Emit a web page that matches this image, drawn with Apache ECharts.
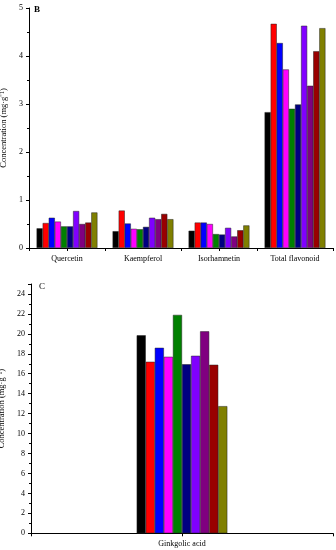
<!DOCTYPE html>
<html><head><meta charset="utf-8">
<script src="https://cdn.jsdelivr.net/npm/echarts@6/dist/echarts.min.js"></script>
<style>html,body{margin:0;padding:0;background:#fff}#c{width:336px;height:550px}</style>
</head><body><div id="c"></div>
<script>
// Panel B categories
const catsB = ['Quercetin', 'Kaempferol', 'Isorhamnetin', 'Total flavonoid'];
// Panel C category
const catsC = ['Ginkgolic acid'];
// Panel B series values (one array per sample, across catsB)
const s1B  = [0.41, 0.35, 0.36, 2.83];
const s2B  = [0.52, 0.78, 0.53, 4.67];
const s3B  = [0.63, 0.51, 0.53, 4.27];
const s4B  = [0.55, 0.40, 0.50, 3.72];
const s5B  = [0.45, 0.39, 0.29, 2.90];
const s6B  = [0.45, 0.44, 0.28, 2.99];
const s7B  = [0.77, 0.63, 0.42, 4.63];
const s8B  = [0.50, 0.60, 0.24, 3.38];
const s9B  = [0.53, 0.71, 0.37, 4.10];
const s10B = [0.74, 0.60, 0.47, 4.58];
// Panel C values (one per sample)
const valuesC = [19.85, 17.2, 18.6, 17.7, 21.9, 16.95, 17.8, 20.25, 16.9, 12.75];
const seriesNames = ['S1','S2','S3','S4','S5','S6','S7','S8','S9','S10'];
const colors = ['#000000','#ff0000','#0000ff','#ff00ff','#008000','#000080','#8000ff','#800080','#990000','#808000'];
const dataB = [s1B, s2B, s3B, s4B, s5B, s6B, s7B, s8B, s9B, s10B];

const FONT = 'Liberation Serif';
const chart = echarts.init(document.getElementById('c'), null, {renderer: 'canvas'});

function xAxes(cats, gi) {
  const common = {
    type: 'category', data: cats, gridIndex: gi, position: 'bottom',
    axisLine: {show: true, lineStyle: {color: '#000', width: 1}},
    splitLine: {show: false}
  };
  return [
    Object.assign({}, common, {
      axisTick: {show: true, length: 3, lineStyle: {color: '#000'}},
      axisLabel: {show: true, color: '#000', fontFamily: FONT, fontSize: 8, margin: 7}
    }),
    Object.assign({}, common, {
      axisLine: {show: false},
      axisTick: {show: true, alignWithLabel: true, length: 3, lineStyle: {color: '#000'}},
      axisLabel: {show: false}
    })
  ];
}
function yAxis(gi, max, interval, gap) {
  return {
    type: 'value', gridIndex: gi, min: 0, max: max, interval: interval,
    name: 'Concentration (mg·g⁻¹)', nameLocation: 'middle', nameGap: gap,
    nameTextStyle: {color: '#000', fontFamily: FONT, fontSize: 8.5},
    axisLine: {show: true, lineStyle: {color: '#000', width: 1}},
    axisTick: {show: true, length: 3, lineStyle: {color: '#000'}},
    minorTick: {show: true, splitNumber: 2, length: 2, lineStyle: {color: '#000'}},
    axisLabel: {color: '#000', fontFamily: FONT, fontSize: 8, margin: 6, showMaxLabel: interval === 1},
    splitLine: {show: false}
  };
}

const series = [];
dataB.forEach((arr, i) => {
  series.push({
    type: 'bar', name: seriesNames[i], xAxisIndex: 0, yAxisIndex: 0, data: arr,
    barGap: '0%', barCategoryGap: '20%',
    itemStyle: {color: colors[i], borderColor: '#222', borderWidth: 0.5},
    silent: true, animation: false
  });
});
valuesC.forEach((v, i) => {
  series.push({
    type: 'bar', name: seriesNames[i], xAxisIndex: 2, yAxisIndex: 1, data: [v],
    barGap: '0%', barCategoryGap: '70%',
    itemStyle: {color: colors[i], borderColor: '#222', borderWidth: 0.5},
    silent: true, animation: false
  });
});

chart.setOption({
  animation: false,
  backgroundColor: '#fff',
  title: [
    {text: 'B', left: 34, top: 5, padding: 0, textStyle: {fontFamily: FONT, fontSize: 9, fontWeight: 'bold', color: '#000'}},
    {text: 'C', left: 39, top: 282, padding: 0, textStyle: {fontFamily: FONT, fontSize: 9, fontWeight: 'normal', color: '#000'}}
  ],
  grid: [
    {left: 29, right: 3, top: 8, height: 240, containLabel: false, outerBoundsMode: 'none'},
    {left: 31, right: 3, top: 284, height: 249.3, containLabel: false, outerBoundsMode: 'none'}
  ],
  xAxis: [].concat(xAxes(catsB, 0), xAxes(catsC, 1)),
  yAxis: [yAxis(0, 5, 1, 18), yAxis(1, 25, 2, 20)],
  series: series
});
</script></body></html>
